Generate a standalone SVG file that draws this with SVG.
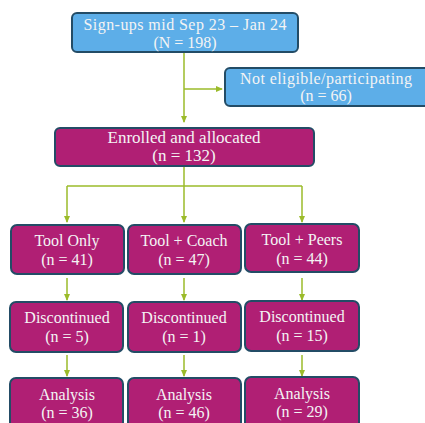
<svg xmlns="http://www.w3.org/2000/svg" width="425" height="423" viewBox="0 0 425 423">
<defs>
<marker id="ah" markerWidth="7" markerHeight="6" refX="6" refY="3" orient="auto" markerUnits="userSpaceOnUse">
<path d="M0,0 L7,3 L0,6 Z" fill="#9BBB2A"/>
</marker>
<style>
.blue{fill:#5DAEE8;stroke:#234C66;stroke-width:2}
.mag{fill:#B01F74;stroke:#234C66;stroke-width:2}
text{font-family:"Liberation Serif","DejaVu Serif",serif;fill:#F4F4F4;text-anchor:middle;font-size:16px}
.big{font-size:17px}
.c{fill:none;stroke:#9BBB2A;stroke-width:1.5}
</style>
</defs>
<rect width="425" height="423" fill="#FFFFFF"/>
<g id="connectors">
<path class="c" d="M184,52 V122" marker-end="url(#ah)"/>
<path class="c" d="M184,89 H222" marker-end="url(#ah)"/>
<path class="c" d="M184,167 V186"/>
<path class="c" d="M67,186 H302"/>
<path class="c" d="M67,186 V222" marker-end="url(#ah)"/>
<path class="c" d="M184,186 V222" marker-end="url(#ah)"/>
<path class="c" d="M302,186 V222" marker-end="url(#ah)"/>
<path class="c" d="M67,278 V300" marker-end="url(#ah)"/>
<path class="c" d="M184,278 V300" marker-end="url(#ah)"/>
<path class="c" d="M302,278 V300" marker-end="url(#ah)"/>
<path class="c" d="M67,355 V376" marker-end="url(#ah)"/>
<path class="c" d="M184,355 V376" marker-end="url(#ah)"/>
<path class="c" d="M302,355 V376" marker-end="url(#ah)"/>
</g>
<g id="signups">
<rect class="blue" x="72" y="13" width="226" height="39" rx="5"/>
<text x="185" y="30" textLength="203" lengthAdjust="spacing">Sign-ups mid Sep 23 – Jan 24</text>
<text x="185" y="47.5">(N = 198)</text>
</g>
<g id="noteligible">
<rect class="blue" x="225" y="68" width="204" height="38" rx="5"/>
<text x="326" y="83.5" textLength="172" lengthAdjust="spacing">Not eligible/participating</text>
<text x="326" y="101">(n = 66)</text>
</g>
<g id="enrolled">
<rect class="mag" x="55" y="128" width="259" height="38" rx="5"/>
<text class="big" x="184" y="143">Enrolled and allocated</text>
<text class="big" x="184" y="161">(n = 132)</text>
</g>
<g id="toolonly">
<rect class="mag" x="11" y="225" width="113" height="49" rx="6"/>
<text x="67" y="246">Tool Only</text>
<text x="67" y="265">(n = 41)</text>
</g>
<g id="toolcoach">
<rect class="mag" x="128" y="225" width="113" height="49" rx="6"/>
<text x="184" y="246">Tool + Coach</text>
<text x="184" y="265">(n = 47)</text>
</g>
<g id="toolpeers">
<rect class="mag" x="245" y="224" width="114" height="48" rx="6"/>
<text x="302" y="245">Tool + Peers</text>
<text x="302" y="264">(n = 44)</text>
</g>
<g id="disc1">
<rect class="mag" x="10" y="302" width="113" height="50" rx="6"/>
<text x="67" y="323">Discontinued</text>
<text x="67" y="342">(n = 5)</text>
</g>
<g id="disc2">
<rect class="mag" x="128" y="302" width="113" height="50" rx="6"/>
<text x="184" y="323">Discontinued</text>
<text x="184" y="342">(n = 1)</text>
</g>
<g id="disc3">
<rect class="mag" x="245" y="301" width="114" height="50" rx="6"/>
<text x="302" y="322">Discontinued</text>
<text x="302" y="341">(n = 15)</text>
</g>
<g id="analysis1">
<rect class="mag" x="10" y="378" width="113" height="52" rx="6"/>
<text x="67" y="400">Analysis</text>
<text x="67" y="418">(n = 36)</text>
</g>
<g id="analysis2">
<rect class="mag" x="128" y="378" width="113" height="52" rx="6"/>
<text x="184" y="400">Analysis</text>
<text x="184" y="418">(n = 46)</text>
</g>
<g id="analysis3">
<rect class="mag" x="245" y="377" width="114" height="53" rx="6"/>
<text x="302" y="399">Analysis</text>
<text x="302" y="417">(n = 29)</text>
</g>
</svg>
